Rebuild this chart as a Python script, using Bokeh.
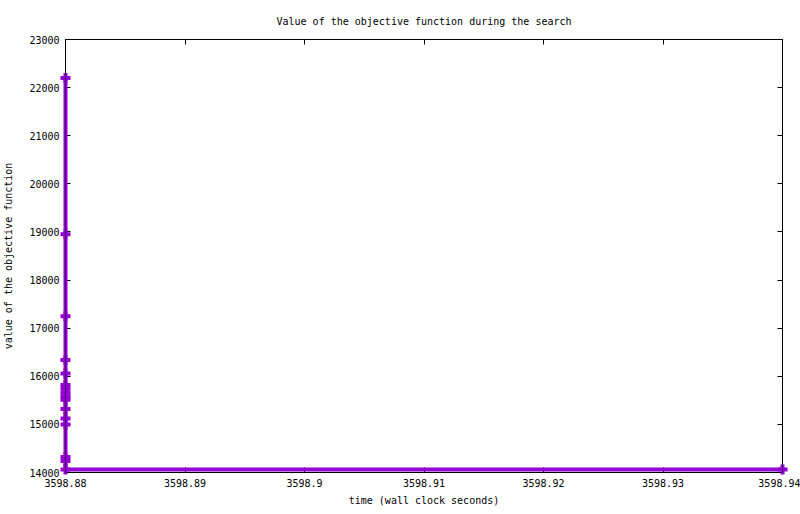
from bokeh.plotting import figure
from bokeh.models import LinearAxis, FixedTicker, CustomJSTickFormatter, Range1d, Span
from bokeh.embed import file_html
from bokeh.resources import INLINE

# objective value found at each improvement (wall clock seconds)
times = [3598.88, 3598.88, 3598.88, 3598.88, 3598.88, 3598.88, 3598.88, 3598.88,
         3598.88, 3598.88, 3598.88, 3598.88, 3598.88, 3598.88, 3598.88, 3598.88,
         3598.94]
values = [22200, 18950, 17250, 16340, 16060, 15820, 15740, 15660, 15580, 15510,
          15320, 15120, 15000, 14320, 14240, 14060, 14060]

x_ticks = [3598.88, 3598.89, 3598.90, 3598.91, 3598.92, 3598.93, 3598.94]
y_ticks = [14000, 15000, 16000, 17000, 18000, 19000, 20000, 21000, 22000, 23000]

FONT = "DejaVu Sans Mono"
PURPLE = "#9400d3"

p = figure(width=800, height=514, output_backend="svg", toolbar_location=None,
           title="Value of the objective function during the search",
           x_range=Range1d(3598.88, 3598.94), y_range=Range1d(14000, 23000),
           x_axis_label="time (wall clock seconds)",
           y_axis_label="value of the objective function",
           min_border_left=64, min_border_right=18, min_border_top=39,
           min_border_bottom=42)

p.title.align = "center"
p.title.text_font = FONT
p.title.text_font_size = "10px"
p.title.text_font_style = "normal"
p.title.text_color = "black"
p.title.standoff = 26

p.xgrid.visible = False
p.ygrid.visible = False
p.outline_line_color = "black"
p.outline_line_width = 1
p.outline_line_alpha = 1

fmt = CustomJSTickFormatter(code="return String(parseFloat(tick.toFixed(2)));")
blank = CustomJSTickFormatter(code="return '';")

p.add_layout(LinearAxis(), "right")
p.add_layout(LinearAxis(), "above")

for ax in p.axis:
    ax.major_tick_in = 5
    ax.major_tick_out = 0
    ax.minor_tick_line_color = None
    ax.axis_line_color = "black"
    ax.major_tick_line_color = "black"
    ax.major_label_text_font = FONT
    ax.major_label_text_font_size = "10px"
    ax.major_label_text_color = "black"
    ax.axis_label_text_font = FONT
    ax.axis_label_text_font_size = "10px"
    ax.axis_label_text_font_style = "normal"
    ax.axis_label_text_color = "black"
    ax.major_label_standoff = 6

for ax in p.xaxis:
    ax.ticker = FixedTicker(ticks=x_ticks)
    ax.formatter = fmt
for ax in p.yaxis:
    ax.ticker = FixedTicker(ticks=y_ticks)

p.yaxis[0].axis_label_standoff = 12
p.xaxis[0].major_label_standoff = 11
p.xaxis[0].axis_label_standoff = 7

for ax in (p.right[0], p.above[0]):
    ax.formatter = blank
    ax.major_label_standoff = 0

# overlay level so the marks at the frame edges are not cut in half
p.line(times, values, line_color=PURPLE, line_width=4, level="overlay")
p.scatter(times, values, marker="cross", size=10, line_color=PURPLE, line_width=4,
          level="overlay")

# border drawn again on top of the data, like gnuplot does
for loc, dim in ((p.x_range.start, "height"), (p.x_range.end, "height"),
                 (p.y_range.start, "width")):
    p.renderers.append(Span(location=loc, dimension=dim, line_color="black",
                            line_width=1, level="overlay"))

open("out.html", "w").write(file_html(p, INLINE))
